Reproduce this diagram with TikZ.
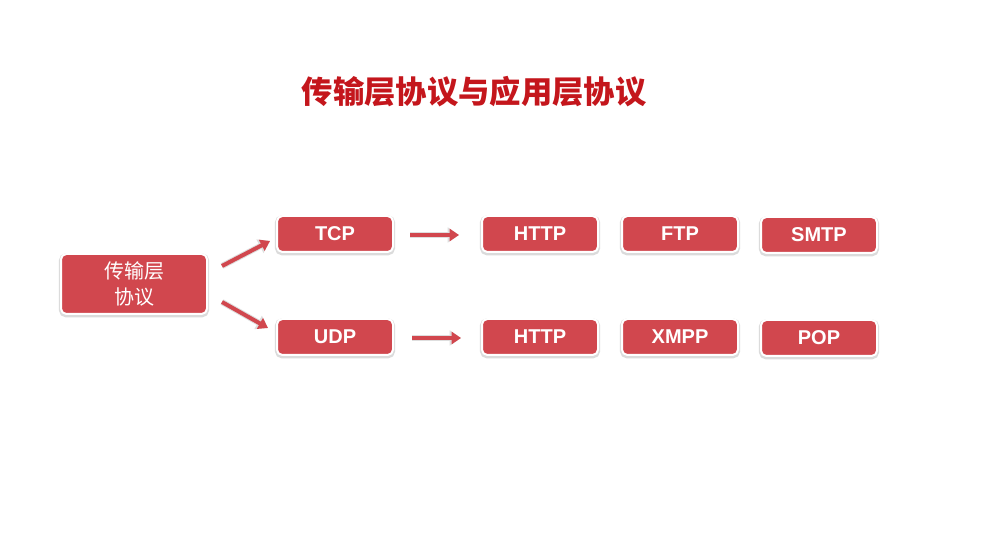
\documentclass[tikz,border=0pt]{standalone}
\usepackage{fontspec}
\setmainfont{Liberation Sans}
\newfontfamily\cjk{Noto Sans CJK SC}
\usetikzlibrary{arrows.meta,shadows}
\definecolor{boxred}{HTML}{D1474E}
\definecolor{titlered}{HTML}{C4161C}
\begin{document}
\begin{tikzpicture}[x=0.75pt,y=-0.75pt,
  box/.style={rounded corners=4pt, fill=boxred, draw=white, line width=1.5pt,
    minimum width=87pt, minimum height=27pt, inner sep=0pt, text=white,
    font=\fontsize{15}{18}\selectfont\bfseries,
    preaction={draw=black!14, line width=3.2pt, transform canvas={yshift=-1pt}}},
  bigbox/.style={box, minimum width=109.5pt, minimum height=45pt,
    font=\cjk\fontsize{15}{19}\selectfont, align=center},
  arr/.style={-{Triangle[length=7pt,width=9pt]}, line width=3pt, draw=boxred,
    preaction={draw=black!13, line width=4.5pt, -{Triangle[length=8.5pt,width=11pt]}}}]
\useasboundingbox[fill=white] (0,0) rectangle (996,559);
\node[font=\cjk\bfseries\fontsize{23.5}{28}\selectfont, text=titlered] (title) at (474,92) {传输层协议与应用层协议};
\node[bigbox] (trans) at (134,284) {传输层\\协议};
\node[box] (tcp) at (335,234) {TCP};
\node[box] (udp) at (335,337) {UDP};
\node[box] (http1) at (540,234) {HTTP};
\node[box] (ftp) at (680,234) {FTP};
\node[box] (smtp) at (819,235) {SMTP};
\node[box] (http2) at (540,337) {HTTP};
\node[box] (xmpp) at (680,337) {XMPP};
\node[box] (pop) at (819,338) {POP};
\coordinate (a1s) at (222,266); \coordinate (a1e) at (270,241);
\coordinate (a2s) at (222,302); \coordinate (a2e) at (268,328);
\coordinate (a3s) at (410,235); \coordinate (a3e) at (459,235);
\coordinate (a4s) at (412,338); \coordinate (a4e) at (461,338);
\draw[arr] (a1s) -- (a1e);
\draw[arr] (a2s) -- (a2e);
\draw[arr] (a3s) -- (a3e);
\draw[arr] (a4s) -- (a4e);
\end{tikzpicture}
\end{document}
